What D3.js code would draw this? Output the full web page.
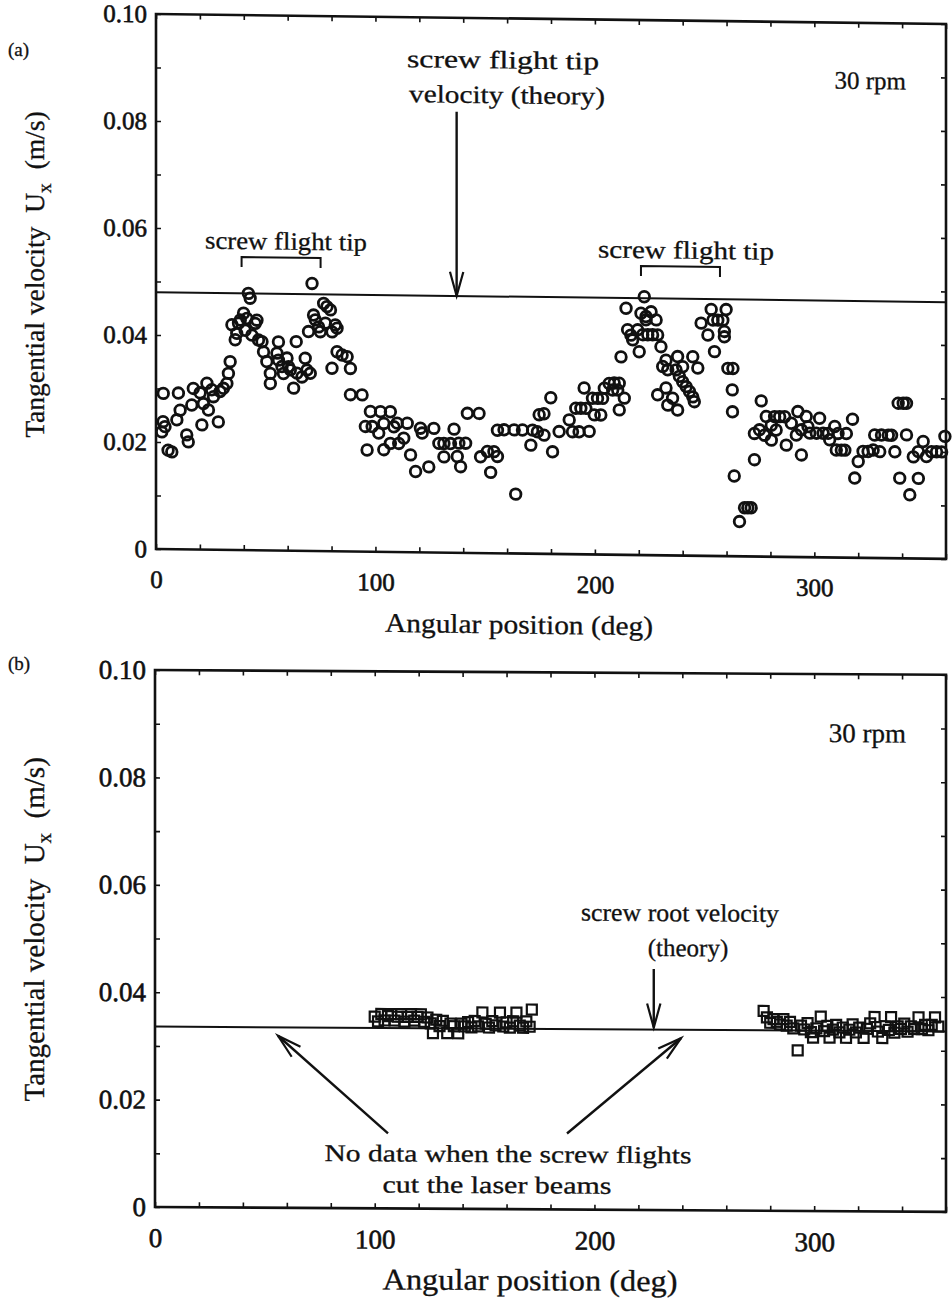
<!DOCTYPE html>
<html><head><meta charset="utf-8">
<script src="https://cdn.jsdelivr.net/npm/d3@7"></script>
<style>
body{margin:0;background:#fff}
svg{display:block}
text{font-family:"Liberation Serif","Times New Roman",serif;fill:#111;stroke:#111;stroke-width:0.3px}
.tick text{stroke-width:0.6px}
</style>
</head><body>
<svg id="c" width="952" height="1300"></svg>
<script>
// ---------- DATA ----------
// Panel (a): measured tangential velocity (circles)
const angleA=[3.3,10.2,3.2,4.1,2.6,9.5,11.0,7.2,5.5,14.0,14.7,16.3,17.0,20.1,20.9,21.6,23.2,23.9,25.4,26.2,28.4,29.2,30.7,32.3,33.0,33.8,34.6,36.1,36.8,37.6,38.4,39.9,41.4,42.1,42.9,40.6,43.7,45.2,46.0,46.7,48.3,49.0,50.5,52.1,52.1,55.8,55.1,55.8,57.4,58.1,59.7,60.4,62.7,61.2,64.2,63.9,66.5,68.0,68.8,70.3,71.1,69.5,71.8,72.6,74.1,74.9,76.4,77.9,79.5,77.2,80.2,81.7,82.5,80.2,82.5,84.8,88.6,87.1,88.6,93.9,97.7,102.3,106.8,95.4,98.5,103.8,101.5,96.2,103.8,106.8,110.6,112.9,108.4,109.9,114.5,116.0,118.3,120.5,121.3,124.3,126.6,128.9,131.2,131.2,135.8,134.2,138.0,141.1,138.8,137.3,141.9,147.2,147.9,151.0,154.0,155.6,152.5,155.6,158.6,163.2,167.0,171.6,163.9,170.8,174.6,173.8,176.8,180.7,176.8,179.9,183.7,188.3,189.8,192.8,197.4,191.3,193.6,195.9,195.1,198.9,201.2,203.5,199.7,202.7,204.3,206.5,208.8,211.1,208.1,210.4,213.4,211.1,211.9,214.2,214.9,216.4,217.2,219.5,221.8,224.1,226.3,228.6,220.2,222.5,221.0,223.3,225.6,223.3,227.9,230.1,230.9,232.4,233.2,228.6,232.4,233.2,235.4,237.7,237.7,240.0,237.0,238.5,240.0,241.6,243.1,244.6,245.3,244.6,246.9,248.4,251.5,253.8,253.0,256.0,258.3,259.0,254.5,259.8,259.0,260.6,262.9,262.6,262.7,263.5,265.9,268.2,269.7,271.2,272.7,272.7,275.8,275.0,277.3,280.4,278.1,281.9,284.2,286.5,280.4,282.6,287.2,289.5,292.5,291.8,294.1,294.1,296.3,297.1,297.9,300.9,304.0,302.4,306.3,307.0,309.3,310.8,310.0,312.3,313.9,314.6,317.4,318.4,320.0,322.2,324.5,326.8,327.5,330.6,333.7,335.2,329.8,336.7,338.2,340.5,342.0,338.9,342.0,343.5,345.1,347.4,349.6,351.1,353.4,355.7,358.0,359.5,347.4];
const velA=[0.0291,0.0292,0.0238,0.0229,0.0219,0.0242,0.0260,0.0182,0.0185,0.0214,0.0201,0.0270,0.0301,0.0293,0.0233,0.0273,0.0311,0.0261,0.0299,0.0286,0.0239,0.0296,0.0302,0.0311,0.0330,0.0352,0.0421,0.0393,0.0405,0.0424,0.0430,0.0443,0.0433,0.0480,0.0471,0.0411,0.0402,0.0424,0.0430,0.0393,0.0390,0.0371,0.0353,0.0331,0.0312,0.0390,0.0369,0.0356,0.0344,0.0331,0.0360,0.0344,0.0304,0.0338,0.0332,0.0391,0.0325,0.0360,0.0338,0.0332,0.0500,0.0410,0.0441,0.0432,0.0419,0.0410,0.0463,0.0457,0.0451,0.0426,0.0410,0.0423,0.0417,0.0342,0.0373,0.0367,0.0293,0.0364,0.0342,0.0293,0.0262,0.0262,0.0262,0.0234,0.0234,0.0240,0.0222,0.0190,0.0191,0.0203,0.0203,0.0213,0.0234,0.0241,0.0241,0.0182,0.0151,0.0232,0.0223,0.0160,0.0232,0.0204,0.0204,0.0179,0.0231,0.0204,0.0205,0.0205,0.0161,0.0180,0.0261,0.0261,0.0180,0.0190,0.0190,0.0181,0.0151,0.0230,0.0231,0.0231,0.0231,0.0231,0.0111,0.0203,0.0260,0.0228,0.0222,0.0191,0.0262,0.0292,0.0229,0.0251,0.0229,0.0229,0.0230,0.0273,0.0273,0.0273,0.0311,0.0292,0.0292,0.0292,0.0261,0.0261,0.0311,0.0320,0.0321,0.0321,0.0308,0.0308,0.0293,0.0271,0.0370,0.0461,0.0421,0.0411,0.0402,0.0421,0.0412,0.0412,0.0412,0.0412,0.0380,0.0483,0.0452,0.0446,0.0455,0.0440,0.0440,0.0390,0.0353,0.0365,0.0347,0.0300,0.0313,0.0281,0.0294,0.0272,0.0372,0.0353,0.0347,0.0335,0.0325,0.0316,0.0307,0.0297,0.0288,0.0372,0.0351,0.0435,0.0413,0.0441,0.0461,0.0441,0.0441,0.0410,0.0382,0.0461,0.0420,0.0351,0.0351,0.0311,0.0270,0.0150,0.0065,0.0091,0.0091,0.0091,0.0181,0.0230,0.0291,0.0237,0.0227,0.0218,0.0262,0.0262,0.0262,0.0262,0.0246,0.0237,0.0209,0.0250,0.0272,0.0228,0.0238,0.0191,0.0263,0.0244,0.0232,0.0232,0.0232,0.0260,0.0232,0.0220,0.0245,0.0232,0.0201,0.0201,0.0201,0.0232,0.0259,0.0149,0.0180,0.0199,0.0199,0.0202,0.0230,0.0230,0.0230,0.0230,0.0199,0.0199,0.0290,0.0290,0.0290,0.0150,0.0231,0.0119,0.0190,0.0200,0.0219,0.0191,0.0200,0.0200,0.0200,0.0229,0.0150];
// Panel (b): measured tangential velocity (squares)
const angleB=[100,101.5,103,104.5,106,107.5,109,110.5,112,113.5,115,116.5,118,119.5,121,122.5,124,125.5,126.5,128,129.5,131,133,134.5,136,138,139.5,141,142.5,144,145.5,147,149,150.5,152,153.5,155,157,158.5,160,161.5,163,164.5,166,167.5,169,170.5,171.5,
  277,278.5,280,281.5,283,284.5,286,287.5,289,290.5,292.5,294,295.5,297,298.5,299.5,301,303,304.5,306,307,308.5,310,311.5,313,314.5,316,317.5,319,320.5,322.5,324,325.5,327.5,329,331,332.5,334,335,336.5,338,339.5,341,342.5,344,345.5,347.5,349,350.5,352,353.5,355,356.5];
const velB=[0.0357,0.0348,0.0362,0.0350,0.0358,0.0362,0.0350,0.0357,0.0362,0.0348,0.0357,0.0362,0.0350,0.0357,0.0362,0.0348,0.0356,0.0345,0.0327,0.0352,0.0340,0.0350,0.0327,0.0345,0.0340,0.0327,0.0345,0.0340,0.0348,0.0338,0.0350,0.0340,0.0366,0.0345,0.0338,0.0350,0.0342,0.0366,0.0340,0.0348,0.0338,0.0350,0.0366,0.0342,0.0338,0.0350,0.0340,0.0372,
  0.0372,0.0360,0.0350,0.0357,0.0352,0.0347,0.0357,0.0345,0.0352,0.0340,0.0299,0.0345,0.0338,0.0350,0.0333,0.0323,0.0340,0.0362,0.0335,0.0345,0.0323,0.0338,0.0347,0.0333,0.0342,0.0323,0.0338,0.0348,0.0333,0.0342,0.0323,0.0340,0.0350,0.0362,0.0335,0.0323,0.0345,0.0338,0.0362,0.0333,0.0345,0.0340,0.0350,0.0335,0.0345,0.0340,0.0362,0.0340,0.0348,0.0338,0.0348,0.0362,0.0345];
const theoryA=0.048;   // screw flight tip velocity (theory)
const theoryB=0.0336;  // screw root velocity (theory)
const xTickLabels=[0,100,200,300];
const yTickLabels=[0,0.02,0.04,0.06,0.08,0.10];

// ---------- DRAW ----------
const svg=d3.select("#c");
const ink="#111";

function panel(o){
  const g=svg.append("g")
    .attr("transform",`translate(${o.left},0) skewY(${o.skew}) translate(${-o.left},0)`);
  const x=d3.scaleLinear().domain([0,360]).range([o.left,o.right]);
  const y=d3.scaleLinear().domain([0,0.1]).range([o.bottom,o.top]);
  const minorX=d3.range(0,361,20), minorY=d3.range(0,0.1001,0.01);
  const fmtX=d=>xTickLabels.includes(d)?String(d):"";
  const fmtY=d=>{const m=yTickLabels.find(v=>Math.abs(v-d)<1e-6);return m===undefined?"":(m===0?"0":m.toFixed(2));};
  const ax=(axis,tr)=>{const a=g.append("g").attr("transform",tr).call(axis);a.select(".domain").remove();
    a.selectAll("line").attr("stroke",ink).attr("stroke-width",1.6);return a;};
  const bx=ax(d3.axisBottom(x).tickValues(minorX).tickSizeInner(-5).tickSizeOuter(0).tickPadding(o.xPad).tickFormat(fmtX),`translate(0,${o.bottom})`);
  bx.selectAll("text").attr("font-size",o.tickFont).attr("fill",ink).style("font-family",'"Liberation Serif",serif');
  ax(d3.axisTop(x).tickValues(minorX).tickSizeInner(-5).tickSizeOuter(0).tickFormat(""),`translate(0,${o.top})`);
  const ly=ax(d3.axisLeft(y).tickValues(minorY).tickSizeInner(-5).tickSizeOuter(0).tickPadding(9).tickFormat(fmtY),`translate(${o.left},0)`);
  ly.selectAll("text").attr("font-size",o.tickFont).attr("fill",ink).style("font-family",'"Liberation Serif",serif');
  ax(d3.axisRight(y).tickValues(minorY).tickSizeInner(-5).tickSizeOuter(0).tickFormat(""),`translate(${o.right},0)`);
  g.append("rect").attr("x",o.left).attr("y",o.top).attr("width",o.right-o.left).attr("height",o.bottom-o.top)
    .attr("fill","none").attr("stroke",ink).attr("stroke-width",2.6);
  // theory line
  g.append("line").attr("x1",x(0)).attr("x2",x(360)).attr("y1",y(o.theory)).attr("y2",y(o.theory))
    .attr("stroke",ink).attr("stroke-width",2);
  // axis titles
  g.append("text").attr("x",o.titleX).attr("y",o.titleY).attr("text-anchor","middle")
    .attr("font-size",o.titleFont).attr("textLength",o.titleLen).attr("lengthAdjust","spacingAndGlyphs")
    .text("Angular position (deg)");
  const yl=g.append("text").attr("transform",`translate(${o.ylX},${o.ylY}) rotate(-90)`)
    .attr("text-anchor","middle").attr("font-size",o.ylFont);
  yl.append("tspan").text("Tangential velocity\u00a0\u00a0U");
  yl.append("tspan").attr("dy",7).attr("font-size",o.ylFont*0.72).text("x");
  yl.append("tspan").attr("dy",-7).text("\u00a0\u00a0(m/s)");
  // panel letter & rpm
  svg.append("text").attr("x",8).attr("y",o.letterY).attr("font-size",19).text(o.letter);
  g.append("text").attr("x",o.right-40).attr("y",o.rpmY).attr("text-anchor","end").attr("font-size",o.tickFont).text("30 rpm");
  return {g,x,y};
}

function arrowHead(g,tx,ty,angle){ // open V head, angle = direction of travel (rad)
  const L=25,a=0.27;
  const p=d3.path();
  p.moveTo(tx-L*Math.cos(angle-a),ty-L*Math.sin(angle-a));
  p.lineTo(tx,ty);
  p.lineTo(tx-L*Math.cos(angle+a),ty-L*Math.sin(angle+a));
  g.append("path").attr("d",p.toString()).attr("fill","none").attr("stroke",ink).attr("stroke-width",2.2);
}
function arrow(g,x1,y1,x2,y2){
  g.append("line").attr("x1",x1).attr("y1",y1).attr("x2",x2).attr("y2",y2).attr("stroke",ink).attr("stroke-width",2.4);
  arrowHead(g,x2,y2,Math.atan2(y2-y1,x2-x1));
}

// Panel (a)
const A=panel({left:156,right:946,top:14,bottom:549,skew:0.72,theory:theoryA,letter:"(a)",letterY:56,
  tickFont:25,xPad:21,titleX:519,titleY:629,titleFont:27,titleLen:268,ylX:44,ylY:276,ylFont:27.5,rpmY:80});
A.g.append("g").selectAll("circle").data(angleA.map((d,i)=>[d,velA[i]])).join("circle")
  .attr("cx",d=>A.x(d[0])).attr("cy",d=>A.y(d[1])).attr("r",5.3)
  .attr("fill","none").attr("stroke",ink).attr("stroke-width",2.8);
const ta=A.g.append("text").attr("text-anchor","middle").attr("font-size",25);
ta.append("tspan").attr("x",503).attr("y",64).attr("textLength",192).attr("lengthAdjust","spacingAndGlyphs").text("screw flight tip");
ta.append("tspan").attr("x",507).attr("y",99).attr("textLength",196).attr("lengthAdjust","spacingAndGlyphs").text("velocity (theory)");
arrow(A.g,A.x(137),108,A.x(137),A.y(theoryA));
function bracket(g,x1,x2,yy,label,lx,len){
  g.append("path").attr("d",`M${x1},${yy+10}V${yy}H${x2}V${yy+10}`).attr("fill","none").attr("stroke",ink).attr("stroke-width",2);
  g.append("text").attr("x",lx).attr("y",yy-8).attr("text-anchor","middle").attr("font-size",25)
    .attr("textLength",len).attr("lengthAdjust","spacingAndGlyphs").text(label);
}
bracket(A.g,A.x(39),A.x(75),256,"screw flight tip",286,162);
bracket(A.g,A.x(221),A.x(257),260,"screw flight tip",686,176);

// Panel (b)
const B=panel({left:155,right:946,top:670,bottom:1207,skew:0.35,theory:theoryB,letter:"(b)",letterY:670,
  tickFont:27,xPad:21,titleX:530,titleY:1288,titleFont:30,titleLen:295,ylX:44,ylY:930,ylFont:29,rpmY:738});
B.g.append("g").selectAll("rect").data(angleB.map((d,i)=>[d,velB[i]])).join("rect")
  .attr("x",d=>B.x(d[0])-5).attr("y",d=>B.y(d[1])-5).attr("width",10).attr("height",10)
  .attr("fill","none").attr("stroke",ink).attr("stroke-width",2.2);
const tb=B.g.append("text").attr("text-anchor","middle").attr("font-size",25);
tb.append("tspan").attr("x",680).attr("y",918).attr("textLength",198).attr("lengthAdjust","spacingAndGlyphs").text("screw root velocity");
tb.append("tspan").attr("x",688).attr("y",953).text("(theory)");
arrow(B.g,B.x(227),966,B.x(227),B.y(theoryB)-2);
const tc=B.g.append("text").attr("text-anchor","middle").attr("font-size",24);
tc.append("tspan").attr("x",508).attr("y",1160).attr("textLength",367).attr("lengthAdjust","spacingAndGlyphs").text("No data when the screw flights");
tc.append("tspan").attr("x",497).attr("y",1191).attr("textLength",229).attr("lengthAdjust","spacingAndGlyphs").text("cut the laser beams");
arrow(B.g,388,1132,278,1035);
arrow(B.g,567,1131,681,1035);
</script>
</body></html>
